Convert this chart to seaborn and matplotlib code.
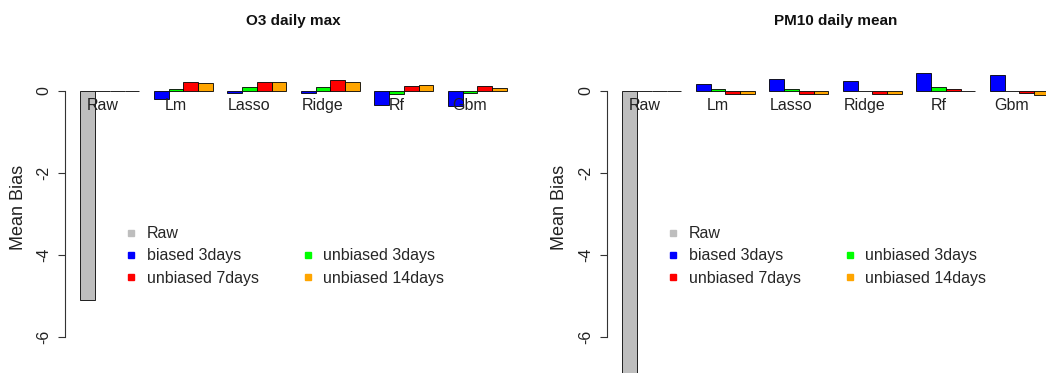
import matplotlib
matplotlib.use("Agg")
import matplotlib.pyplot as plt
from matplotlib.lines import Line2D
import seaborn as sns
import pandas as pd

# Groups shown along the x axis and the bias-correction variants
groups = ["Raw", "Lm", "Lasso", "Ridge", "Rf", "Gbm"]
series = ["biased 3days", "unbiased 3days", "unbiased 7days", "unbiased 14days"]

# O3 daily max: mean bias per model and variant
o3_raw = -5.1
o3_biased3 = [-0.20, -0.05, -0.05, -0.33, -0.36]
o3_unbiased3 = [0.06, 0.10, 0.10, -0.07, -0.06]
o3_unbiased7 = [0.22, 0.23, 0.28, 0.13, 0.13]
o3_unbiased14 = [0.19, 0.23, 0.22, 0.15, 0.07]

# PM10 daily mean: mean bias per model and variant
pm10_raw = -7.3
pm10_biased3 = [0.16, 0.30, 0.25, 0.45, 0.38]
pm10_unbiased3 = [0.05, 0.05, 0.0, 0.09, 0.0]
pm10_unbiased7 = [-0.07, -0.07, -0.07, 0.05, -0.04]
pm10_unbiased14 = [-0.07, -0.07, -0.07, 0.0, -0.10]

colors = {
    "Raw": "#BEBEBE",
    "biased 3days": "#0000FF",
    "unbiased 3days": "#00FF00",
    "unbiased 7days": "#FF0000",
    "unbiased 14days": "#FFA500",
}


def build_frame(raw, b3, u3, u7, u14):
    """Long table: 4 bar slots per group, one empty slot between groups."""
    rows = []
    # Raw group: the raw bar followed by three empty slots
    for slot, val in enumerate([raw, 0.0, 0.0, 0.0]):
        rows.append({"pos": 1 + slot + 0.5, "value": val, "series": "Raw"})
    for g, vals in enumerate(zip(b3, u3, u7, u14), start=1):
        for slot, (name, val) in enumerate(zip(series, vals)):
            rows.append({"pos": 1 + 5 * g + slot + 0.5, "value": val, "series": name})
    return pd.DataFrame(rows)


panels = [
    ("O3 daily max", build_frame(o3_raw, o3_biased3, o3_unbiased3, o3_unbiased7, o3_unbiased14)),
    ("PM10 daily mean", build_frame(pm10_raw, pm10_biased3, pm10_unbiased3, pm10_unbiased7, pm10_unbiased14)),
]

sns.set_theme(style="white")
plt.rcParams["font.family"] = ["Liberation Sans", "DejaVu Sans"]

W, H = 1046, 373
fig = plt.figure(figsize=(W / 100, H / 100), dpi=100)

unit_px = 14.7
xlim = (-0.05, 31.0)
ax_w = (xlim[1] - xlim[0]) * unit_px
ax_top_px = 45
ylim = (-(H - 91) / 41.0, (91 - ax_top_px) / 41.0)
lefts_px = [65, 607]
text_size = 11.5

for (title, df), left_px in zip(panels, lefts_px):
    ax = fig.add_axes([left_px / W, 0.0, ax_w / W, (H - ax_top_px) / H])
    sns.barplot(
        data=df, x="pos", y="value", hue="series", palette=colors,
        native_scale=True, dodge=False, width=1.0, errorbar=None, saturation=1,
        edgecolor="black", linewidth=0.6, legend=False, ax=ax,
    )
    ax.set_xlim(*xlim)
    ax.set_ylim(*ylim)
    ax.set_xticks([])
    ax.set_xlabel("")

    for side in ("top", "right", "bottom"):
        ax.spines[side].set_visible(False)
    ax.spines["left"].set_bounds(-6, 0)
    ax.spines["left"].set_color("#333333")
    ax.spines["left"].set_linewidth(0.8)
    ax.set_yticks([0, -2, -4, -6])
    ax.set_yticklabels(["0", "-2", "-4", "-6"], rotation=90, va="center")
    ax.tick_params(axis="y", left=True, length=5, width=0.8, color="#333333",
                   pad=5, labelsize=text_size, labelcolor="#222222")

    ax.set_ylabel("Mean Bias", fontsize=13, color="#222222", va="center")
    ax.yaxis.set_label_coords(-47 / ax_w, 0.506)

    ax.set_title(title, fontsize=11, fontweight="bold", pad=0,
                 y=1 + (ax_top_px - 21) / (H - ax_top_px), va="center", color="#111111")

    # Group names just under the zero line
    for g, name in enumerate(groups):
        ax.text(2.5 + 5 * g, -0.36, name, ha="center", va="center",
                fontsize=text_size, color="#222222")

    order = ["Raw", "biased 3days", "unbiased 7days", None, "unbiased 3days", "unbiased 14days"]
    handles, labels = [], []
    for name in order:
        if name is None:
            handles.append(Line2D([], [], linestyle="none"))
            labels.append("")
        else:
            handles.append(Line2D([], [], linestyle="none", marker="s", markersize=5,
                                  markerfacecolor=colors[name], markeredgecolor=colors[name]))
            labels.append(name)
    ax.legend(handles, labels, ncol=2, frameon=False, loc="upper left",
              bbox_to_anchor=(4.14, -3.3), bbox_transform=ax.transData,
              fontsize=text_size, handlelength=0.6, handletextpad=0.65,
              columnspacing=2.8, labelspacing=0.45, borderpad=0, borderaxespad=0)

fig.savefig("out.png", dpi=100)
